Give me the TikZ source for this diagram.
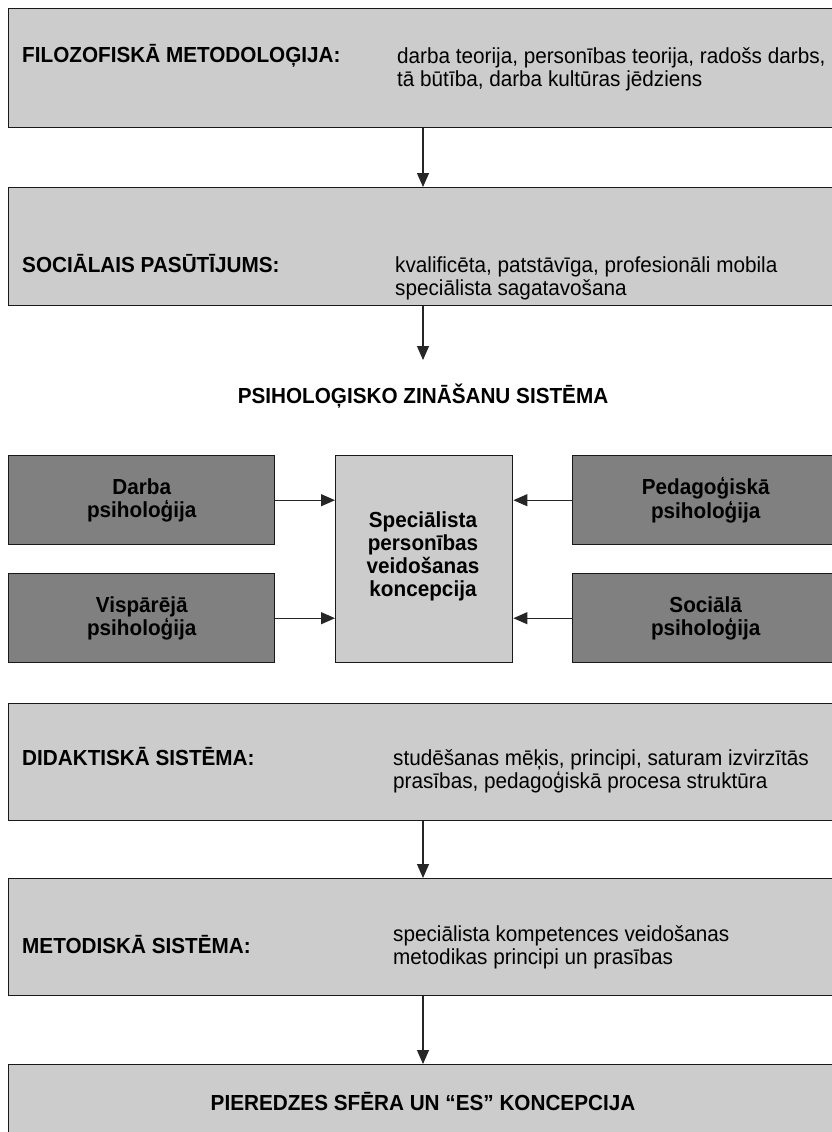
\documentclass[tikz,border=0pt]{standalone}
\usepackage{fontspec}
\setmainfont{Liberation Sans}[FakeStretch=0.95]
\usetikzlibrary{arrows.meta}
\definecolor{panelfill}{RGB}{204,204,204}
\definecolor{darkfill}{RGB}{128,128,128}
\begin{document}
\begin{tikzpicture}[x=1pt,y=-1pt,
  panel/.style={draw=black!90, line width=1.4pt, fill=panelfill, anchor=north west, inner sep=0pt},
  darkbox/.style={draw=black!90, line width=1.4pt, fill=darkfill, anchor=north west, inner sep=0pt,
    minimum width=266pt, minimum height=89pt, align=center, font=\fontsize{21.8}{23.5}\selectfont\bfseries},
  lbl/.style={anchor=base west, inner sep=0pt, font=\fontsize{21.8}{23}\selectfont\bfseries},
  % multi-line nodes: the base anchor sits on the last line
  txt/.style={anchor=base west, inner sep=0pt, align=left, font=\fontsize{21.8}{23}\selectfont},
  arr/.style={line width=1.2pt, draw=black!85, -{Triangle[length=14pt,width=12pt]}}]
\useasboundingbox (0,0) rectangle (832,1132);
\clip (0,0) rectangle (832,1132);

% main chain of wide panels
\node[panel, minimum width=830pt, minimum height=119pt] (filo) at (8,8) {};
\node[panel, minimum width=830pt, minimum height=118pt] (sozi) at (8,187) {};
\node[panel, minimum width=830pt, minimum height=117pt] (didak) at (8,703) {};
\node[panel, minimum width=830pt, minimum height=117pt] (metod) at (8,878) {};
\node[panel, minimum width=830pt, minimum height=100pt] (pier) at (8,1064) {};

% vertical axis of the chain
\coordinate (axis) at (423,0);
\coordinate (psiin) at (423,360);

% panel texts
\node[lbl] (filoL) at (22,63) {FILOZOFISKĀ METODOLOĢIJA:};
\node[txt] (filoT) at (397,86) {darba teorija, personības teorija, radošs darbs,\\tā būtība, darba kultūras jēdziens};
\node[lbl] (soziL) at (22,272) {SOCIĀLAIS PASŪTĪJUMS:};
\node[txt] (soziT) at (395,295) {kvalificēta, patstāvīga, profesionāli mobila\\speciālista sagatavošana};
\node[lbl] (didakL) at (22,765) {DIDAKTISKĀ SISTĒMA:};
\node[txt] (didakT) at (393,788) {studēšanas mēķis, principi, saturam izvirzītās\\prasības, pedagoģiskā procesa struktūra};
\node[lbl] (metodL) at (22,953) {METODISKĀ SISTĒMA:};
\node[txt] (metodT) at (393,964) {speciālista kompetences veidošanas\\metodikas principi un prasības};
\node[lbl, anchor=base] (pierL) at (423,1110) {PIEREDZES SFĒRA UN “ES” KONCEPCIJA};

% psychology block
\node[lbl, anchor=base] (psi) at (423,403) {PSIHOLOĢISKO ZINĀŠANU SISTĒMA};
\node[darkbox] (darba) at (8,455) {Darba\\psiholoģija};
\node[darkbox] (visp) at (8,573) {Vispārējā\\psiholoģija};
\node[darkbox] (pedag) at (572,455) {Pedagoģiskā\\psiholoģija};
\node[darkbox] (soc) at (572,573) {Sociālā\\psiholoģija};
\node[panel, minimum width=177pt, minimum height=207pt] (spec) at (335,455) {};
\node[lbl, anchor=base, align=center] (specT) at (423,596)
  {Speciālista\\personības\\veidošanas\\koncepcija};

% connectors
\draw[arr] (filo.south -| axis) -- (sozi.north -| axis);
\draw[arr] (sozi.south -| axis) -- (psiin);
\draw[arr] (darba.east) -- (spec.west |- darba.east);
\draw[arr] (visp.east) -- (spec.west |- visp.east);
\draw[arr] (pedag.west) -- (spec.east |- pedag.west);
\draw[arr] (soc.west) -- (spec.east |- soc.west);
\draw[arr] (didak.south -| axis) -- (metod.north -| axis);
\draw[arr] (metod.south -| axis) -- (pier.north -| axis);
\end{tikzpicture}
\end{document}
